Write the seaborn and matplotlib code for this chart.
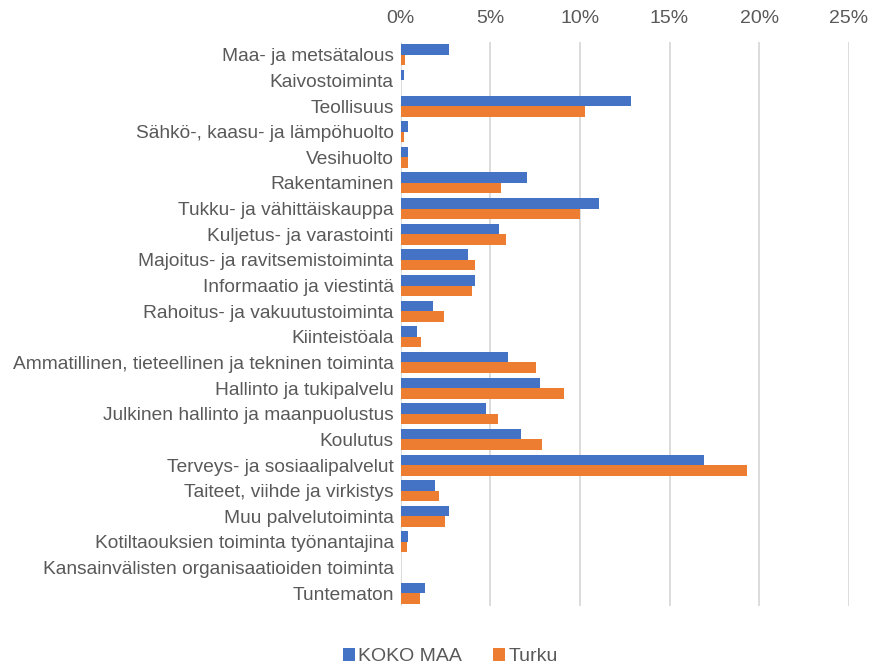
import pandas as pd
import numpy as np
import seaborn as sns
import matplotlib.pyplot as plt
from matplotlib.ticker import FuncFormatter

# Toimialat ja osuudet (%)
toimialat = [
    "Maa- ja metsätalous",
    "Kaivostoiminta",
    "Teollisuus",
    "Sähkö-, kaasu- ja lämpöhuolto",
    "Vesihuolto",
    "Rakentaminen",
    "Tukku- ja vähittäiskauppa",
    "Kuljetus- ja varastointi",
    "Majoitus- ja ravitsemistoiminta",
    "Informaatio ja viestintä",
    "Rahoitus- ja vakuutustoiminta",
    "Kiinteistöala",
    "Ammatillinen, tieteellinen ja tekninen toiminta",
    "Hallinto ja tukipalvelu",
    "Julkinen hallinto ja maanpuolustus",
    "Koulutus",
    "Terveys- ja sosiaalipalvelut",
    "Taiteet, viihde ja virkistys",
    "Muu palvelutoiminta",
    "Kotiltaouksien toiminta työnantajina",
    "Kansainvälisten organisaatioiden toiminta",
    "Tuntematon",
]
koko_maa = [2.69, 0.18, 12.83, 0.41, 0.41, 7.04, 11.04, 5.48, 3.75, 4.13, 1.82,
            0.91, 5.98, 7.75, 4.76, 6.69, 16.95, 1.91, 2.69, 0.41, 0.0, 1.34]
turku = [0.26, 0.0, 10.26, 0.18, 0.41, 5.62, 9.98, 5.90, 4.13, 3.98, 2.40,
         1.12, 7.57, 9.11, 5.41, 7.90, 19.32, 2.12, 2.47, 0.33, 0.0, 1.06]

df = pd.DataFrame({"Toimiala": toimialat, "KOKO MAA": koko_maa, "Turku": turku})
long = df.melt(id_vars="Toimiala", var_name="Alue", value_name="Osuus")

sns.set_style("white")
plt.rcParams['font.family'] = ['Liberation Sans', 'DejaVu Sans']

fig = plt.figure(figsize=(8.75, 6.66), dpi=100)
ax = fig.add_axes([0.458, 0.09, 0.512, 0.847])

sns.barplot(data=long, y="Toimiala", x="Osuus", hue="Alue",
            palette=["#4472C4", "#ED7D31"], saturation=1, width=0.82, ax=ax,
            edgecolor="none", zorder=3)

ax.set_xlim(0, 25)
ax.set_xticks(np.arange(0, 26, 5))
ax.xaxis.set_major_formatter(FuncFormatter(lambda v, p: f"{v:.0f}%"))
ax.xaxis.tick_top()
ax.grid(axis="x", color="#D9D9D9", linewidth=1.3, zorder=0)
ax.tick_params(axis="both", length=0, colors="#595959")
ax.tick_params(axis="y", labelsize=13.8, pad=5)
ax.tick_params(axis="x", labelsize=14, pad=11)
for s in ax.spines.values():
    s.set_visible(False)
ax.set_xlabel("")
ax.set_ylabel("")
ax.set_ylim(21.5, -0.5)

ax.legend(loc="center", bbox_to_anchor=(0.515, 0.014),
          bbox_transform=fig.transFigure, ncol=2, frameon=False,
          fontsize=14, handlelength=0.6, handleheight=0.6,
          handletextpad=0.2, columnspacing=1.6, labelcolor="#595959")

fig.savefig("out.png", dpi=100)
